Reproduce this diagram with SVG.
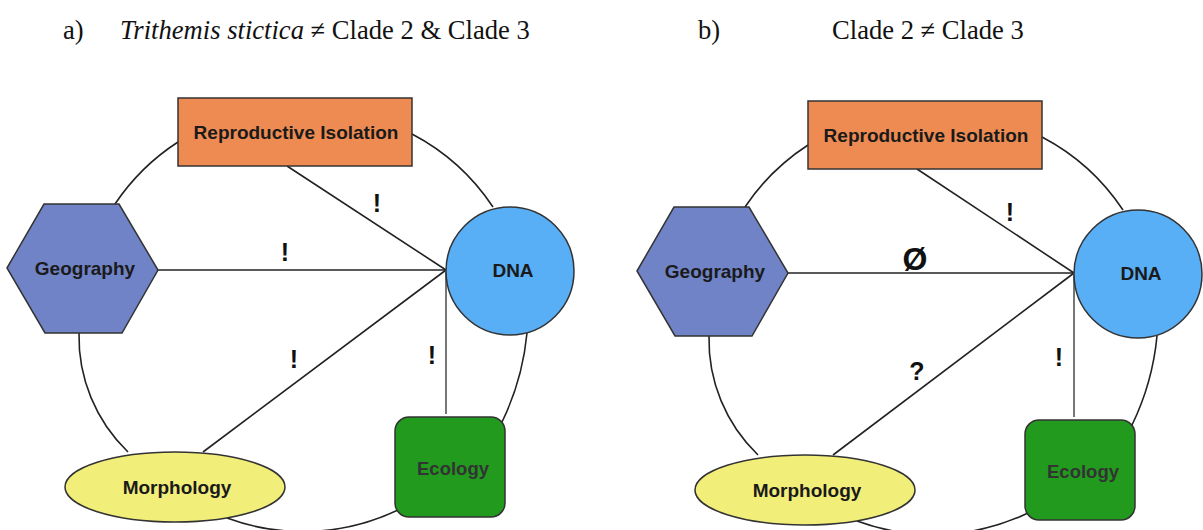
<svg xmlns="http://www.w3.org/2000/svg" width="1203" height="530" viewBox="0 0 1203 530">
  <defs>
    <style>
      .title{font-family:"Liberation Serif","Times New Roman",serif;font-size:26.6px;fill:#111}
      .it{font-style:italic}
      .node{stroke:#333;stroke-width:1.5}
      .ri{fill:#ee8b52}
      .geo{fill:#6f83c6}
      .dna{fill:#58aff6}
      .eco{fill:#219a1e}
      .mor{fill:#f2ee7a}
      .lbl{font-family:"Liberation Sans",Arial,sans-serif;font-weight:bold;font-size:19px;fill:#1a1a1a;text-anchor:middle}
      .lbl-eco{font-size:18.5px;fill:#333}
      .link{fill:none;stroke:#222;stroke-width:1.6}
      .stem{fill:none;stroke:#777;stroke-width:2}
      .mark{font-family:"Liberation Sans",Arial,sans-serif;font-weight:bold;font-size:25px;fill:#111;text-anchor:middle}
      .nil{font-size:32px}
    </style>
    <!-- shared hexagon outline, placed per panel with <use> -->
    <polygon id="hex" points="7,268 44,204 119,204 158,270 122,333 45,333"/>
  </defs>

  <rect width="1203" height="530" fill="#ffffff"/>

  <!-- headings -->
  <g id="titles">
    <text class="title" x="63" y="39">a)</text>
    <text class="title" x="120" y="39"><tspan class="it">Trithemis stictica</tspan> ≠ Clade 2 &amp; Clade 3</text>
    <text class="title" x="698" y="39">b)</text>
    <text class="title" x="832" y="39">Clade 2 ≠ Clade 3</text>
  </g>

  <!-- panel a -->
  <g id="panel-a">
    <g id="a-connectors">
      <path class="link" d="M115,204 A220,220 0 0 1 178,142"/>
      <path class="link" d="M412,134 A220,220 0 0 1 493,207"/>
      <path class="link" d="M527,333 A260,260 0 0 1 502,422"/>
      <path class="link" d="M398,510 A220,220 0 0 1 227,518"/>
      <path class="link" d="M128,452 A160,160 0 0 1 79,333"/>
      <line class="link" x1="287" y1="166" x2="446" y2="270"/>
      <line class="link" x1="158" y1="270" x2="446" y2="270"/>
      <line class="link" x1="203" y1="452" x2="446" y2="270"/>
      <line class="stem" x1="446" y1="270" x2="446" y2="414"/>
      <text class="mark" x="377" y="212">!</text>
      <text class="mark" x="285" y="261">!</text>
      <text class="mark" x="294" y="368">!</text>
      <text class="mark" x="432" y="364">!</text>
    </g>
    <g id="a-reproductive-isolation">
      <rect class="node ri" x="178" y="98" width="234" height="68"/>
      <text class="lbl" x="296" y="139">Reproductive Isolation</text>
    </g>
    <g id="a-geography">
      <use href="#hex" class="node geo"/>
      <text class="lbl" x="85" y="275">Geography</text>
    </g>
    <g id="a-dna">
      <circle class="node dna" cx="510" cy="271" r="64"/>
      <text class="lbl" x="513" y="277">DNA</text>
    </g>
    <g id="a-ecology">
      <rect class="node eco" x="395" y="417" width="110" height="100" rx="14"/>
      <text class="lbl lbl-eco" x="453" y="475">Ecology</text>
    </g>
    <g id="a-morphology">
      <ellipse class="node mor" cx="175" cy="487" rx="110" ry="35"/>
      <text class="lbl" x="177" y="494">Morphology</text>
    </g>
  </g>

  <!-- panel b -->
  <g id="panel-b" transform="translate(630,3)">
    <g id="b-connectors">
      <path class="link" d="M115,204 A220,220 0 0 1 178,142"/>
      <path class="link" d="M412,134 A220,220 0 0 1 493,207"/>
      <path class="link" d="M527,333 A260,260 0 0 1 502,422"/>
      <path class="link" d="M398,510 A220,220 0 0 1 227,518"/>
      <path class="link" d="M128,452 A160,160 0 0 1 79,333"/>
      <line class="link" x1="287" y1="166" x2="444" y2="270"/>
      <line class="link" x1="158" y1="270" x2="444" y2="270"/>
      <line class="link" x1="203" y1="452" x2="444" y2="270"/>
      <line class="stem" x1="444" y1="270" x2="444" y2="414"/>
      <text class="mark" x="380" y="218">!</text>
      <text class="mark nil" x="285" y="267">Ø</text>
      <text class="mark" x="287" y="377">?</text>
      <text class="mark" x="429" y="363">!</text>
    </g>
    <g id="b-reproductive-isolation">
      <rect class="node ri" x="178" y="98" width="234" height="68"/>
      <text class="lbl" x="296" y="139">Reproductive Isolation</text>
    </g>
    <g id="b-geography">
      <use href="#hex" class="node geo"/>
      <text class="lbl" x="85" y="275">Geography</text>
    </g>
    <g id="b-dna">
      <circle class="node dna" cx="508" cy="271" r="64"/>
      <text class="lbl" x="511" y="277">DNA</text>
    </g>
    <g id="b-ecology">
      <rect class="node eco" x="395" y="417" width="110" height="100" rx="14"/>
      <text class="lbl lbl-eco" x="453" y="475">Ecology</text>
    </g>
    <g id="b-morphology">
      <ellipse class="node mor" cx="175" cy="487" rx="110" ry="35"/>
      <text class="lbl" x="177" y="494">Morphology</text>
    </g>
  </g>
</svg>
